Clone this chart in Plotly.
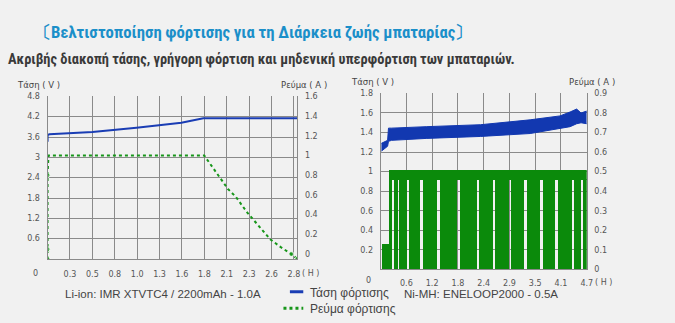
import plotly.graph_objects as go

# ---------------- Li-ion: IMR XTVTC4 / 2200mAh - 1.0A ----------------
li_v_hours = [0.0, 0.0, 0.02, 0.51, 1.01, 1.52, 1.77, 2.86]
li_v_volts = [3.46, 3.66, 3.68, 3.75, 3.87, 4.02, 4.15, 4.15]

li_i_hours = [0.0, 0.0, 0.0, 0.01, 0.04, 1.78, 2.05, 2.14, 2.27, 2.53, 2.65, 2.77, 2.84]
li_i_amps = [-0.05, 0.05, 0.8, 1.0, 1.0, 1.0, 0.66, 0.58, 0.42, 0.15, 0.07, 0.0, -0.05]
li_i_sampled = [1, 1, 1, 0, 0, 0, 0, 0, 0, 0, 0, 1, 1]

li_hour_labels = ["0.3", "0.5", "0.8", "1.0", "1.3", "1.6", "1.8", "2.1", "2.3", "2.6", "2.8"]
li_volt_labels = ["0.6", "1.2", "1.8", "2.4", "3", "3.6", "4.2", "4.8"]
li_amp_labels = ["0", "0.2", "0.4", "0.6", "0.8", "1", "1.2", "1.4", "1.6"]

# ---------------- Ni-MH: ENELOOP2000 - 0.5A ----------------
ni_v_hours = [0.02, 0.16, 0.18, 0.25, 1.04, 2.28, 3.41, 4.09, 4.32, 4.47, 4.57, 4.70]
ni_v_upper = [1.29, 1.32, 1.445, 1.445, 1.46, 1.48, 1.53, 1.57, 1.61, 1.64, 1.60, 1.62]
ni_v_lower = [1.21, 1.26, 1.31, 1.32, 1.34, 1.36, 1.39, 1.44, 1.46, 1.49, 1.50, 1.49]

# pulsed charge current blocks (start h, end h, low A, high A)
ni_i_start = [0.02, 0.19, 0.19, 0.29, 0.42, 0.63, 0.955, 1.34, 1.79, 2.24, 2.605, 2.97, 3.33, 3.69, 4.03, 4.41, 4.60]
ni_i_end = [0.20, 4.72, 0.255, 0.39, 0.59, 0.90, 1.28, 1.735, 2.19, 2.55, 2.91, 3.27, 3.63, 3.97, 4.36, 4.57, 4.72]
ni_i_low = [0.0, 0.455, 0, 0, 0, 0, 0, 0, 0, 0, 0, 0, 0, 0, 0, 0, 0]
ni_i_high = [0.13, 0.505, 0.46, 0.46, 0.46, 0.46, 0.46, 0.46, 0.46, 0.46, 0.46, 0.46, 0.46, 0.46, 0.46, 0.46, 0.46]

ni_hour_labels = ["0.6", "1.2", "1.8", "2.4", "2.9", "3.5", "4.1", "4.7"]
ni_volt_labels = ["0.2", "0.4", "0.6", "0.8", "1", "1.2", "1.4", "1.6", "1.8"]
ni_amp_labels = ["0", "0.1", "0.2", "0.3", "0.4", "0.5", "0.6", "0.7", "0.8", "0.9"]

# ---------------- styling ----------------
W, H = 675, 323
BG = "#f1f1f1"
GRID = "#8a8a8a"
BLUE = "#1a3db4"
BAND = "#1238b0"
GREEN = "#17961a"
PULSE = "#0b8a0b"
TICK_FONT = dict(family="DejaVu Sans", size=8, color="#555555")
LABEL_FONT = dict(family="DejaVu Sans", size=8.5, color="#444444")


def px_x(x):
    return x / W


def px_y(y):
    return 1 - y / H


fig = go.Figure()

# Li-ion voltage
fig.add_trace(go.Scatter(
    x=li_v_hours, y=li_v_volts, mode="lines",
    line=dict(color=BLUE, width=2), xaxis="x", yaxis="y",
    name="Τάση φόρτισης", showlegend=False))

# Li-ion current
fig.add_trace(go.Scatter(
    x=li_i_hours, y=li_i_amps, mode="lines+markers",
    line=dict(color=GREEN, width=2, dash="dot"),
    marker=dict(color=GREEN, size=[5 if s else 0 for s in li_i_sampled]),
    xaxis="x", yaxis="y2", name="Ρεύμα φόρτισης", showlegend=False))

# Ni-MH voltage band
fig.add_trace(go.Scatter(
    x=ni_v_hours, y=ni_v_lower, mode="lines",
    line=dict(color=BAND, width=1), xaxis="x2", yaxis="y3", showlegend=False))
fig.add_trace(go.Scatter(
    x=ni_v_hours, y=ni_v_upper, mode="lines", fill="tonexty", fillcolor=BAND,
    line=dict(color=BAND, width=1), xaxis="x2", yaxis="y3", showlegend=False))

# Ni-MH pulsed current
fig.add_trace(go.Bar(
    x=[(s + e) / 2 for s, e in zip(ni_i_start, ni_i_end)],
    width=[e - s for s, e in zip(ni_i_start, ni_i_end)],
    base=ni_i_low,
    y=[h - l for l, h in zip(ni_i_low, ni_i_high)],
    marker=dict(color=PULSE, line=dict(width=0)),
    xaxis="x2", yaxis="y4", showlegend=False, hoverinfo="skip"))

li_step = float(li_hour_labels[-1]) / len(li_hour_labels)
ni_step = float(ni_hour_labels[-1]) / len(ni_hour_labels)

axis_common = dict(showgrid=True, gridcolor=GRID, gridwidth=1, showline=True,
                   linecolor=GRID, linewidth=1, ticks="", zeroline=False,
                   tickfont=TICK_FONT, fixedrange=True)

fig.update_layout(
    width=W, height=H, margin=dict(l=0, r=0, t=0, b=0),
    paper_bgcolor=BG, plot_bgcolor="rgba(0,0,0,0)",
    barmode="overlay", bargap=0,
    xaxis=dict(axis_common, domain=[px_x(48), px_x(300)], range=[0, 11.15 * li_step],
               anchor="y", tickmode="array",
               tickvals=[(i + 1) * li_step for i in range(len(li_hour_labels))],
               ticktext=li_hour_labels, ticklabelstandoff=7),
    yaxis=dict(axis_common, domain=[px_y(262.3), px_y(95)], range=[0, 4.8], anchor="x",
               tickmode="array", tickvals=[float(t) for t in li_volt_labels],
               ticktext=li_volt_labels, ticklabelstandoff=5),
    yaxis2=dict(axis_common, showgrid=False, overlaying="y", side="right", anchor="x",
                range=[-0.05, 1.6], tickmode="array",
                tickvals=[float(t) for t in li_amp_labels], ticktext=li_amp_labels,
                ticklabelstandoff=5),
    xaxis2=dict(axis_common, domain=[px_x(384), px_x(592)], range=[0, 8 * ni_step],
                anchor="y3", tickmode="array",
                tickvals=[(i + 1) * ni_step for i in range(len(ni_hour_labels))],
                ticktext=ni_hour_labels, ticklabelstandoff=6),
    yaxis3=dict(axis_common, domain=[px_y(273), px_y(92)], range=[0, 1.8], anchor="x2",
                tickmode="array", tickvals=[float(t) for t in ni_volt_labels],
                ticktext=ni_volt_labels, ticklabelstandoff=5),
    yaxis4=dict(axis_common, showgrid=False, overlaying="y3", side="right", anchor="x2",
                range=[0, 0.9], tickmode="array",
                tickvals=[float(t) for t in ni_amp_labels], ticktext=ni_amp_labels,
                ticklabelstandoff=5),
)


def note(text, x, y, font, xanchor="center"):
    fig.add_annotation(text=text, x=px_x(x), y=px_y(y), xref="paper", yref="paper",
                       showarrow=False, font=font, xanchor=xanchor, yanchor="middle")


TITLE_FONT = "Roboto Condensed, Liberation Sans Narrow, Roboto"
note("<b>〔Βελτιστοποίηση φόρτισης για τη Διάρκεια ζωής μπαταρίας〕</b>", 255, 29,
     dict(family=TITLE_FONT, size=16.7, color="#1b8fc9"))
note("<b>Ακριβής διακοπή τάσης, γρήγορη φόρτιση και μηδενική υπερφόρτιση των μπαταριών.</b>",
     264, 57, dict(family=TITLE_FONT, size=14.4, color="#3a3a3a"))

# axis captions
note("Τάση ( V )", 15, 83, LABEL_FONT, "left")
note("Ρεύμα ( A )", 332, 83, LABEL_FONT, "right")
note("Τάση ( V )", 352, 80, LABEL_FONT, "left")
note("Ρεύμα ( A )", 623, 80, LABEL_FONT, "right")
note("0", 36, 277, TICK_FONT)
note("( H )", 313, 277, TICK_FONT)
note("0", 372, 284.5, TICK_FONT)
note("( H )", 609, 286, TICK_FONT)

# chart captions
CAP_FONT = dict(family="Liberation Sans", size=11.5, color="#444444")
note("Li-ion: IMR XTVTC4 / 2200mAh - 1.0A", 164, 298, CAP_FONT)
note("Ni-MH: ENELOOP2000 - 0.5A", 485, 298, CAP_FONT)

# legend
LEG_FONT = dict(family="Liberation Sans", size=12, color="#444444")
fig.add_shape(type="line", xref="paper", yref="paper", x0=px_x(292.5), x1=px_x(306),
              y0=px_y(296), y1=px_y(296), line=dict(color=BLUE, width=3))
fig.add_shape(type="line", xref="paper", yref="paper", x0=px_x(286), x1=px_x(306),
              y0=px_y(313), y1=px_y(313), line=dict(color=GREEN, width=3, dash="dot"))
note("Τάση φόρτισης", 311, 297, LEG_FONT, "left")
note("Ρεύμα φόρτισης", 311, 313.5, LEG_FONT, "left")

fig.write_html("out.html", config={"displayModeBar": False})
